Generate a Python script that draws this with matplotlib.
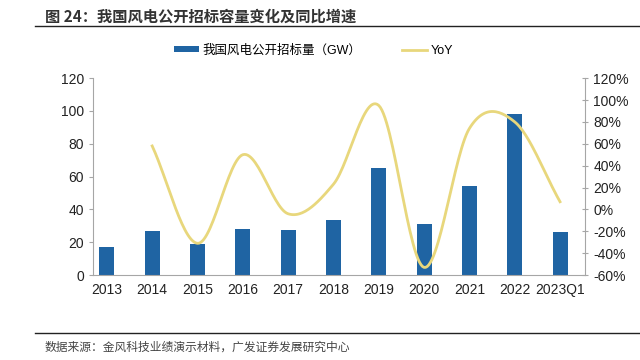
import numpy as np
import matplotlib
matplotlib.use("Agg")
from matplotlib import pyplot as plt

plt.rcParams['font.family'] = ['Liberation Sans', 'Noto Sans CJK SC', 'DejaVu Sans']

# Data
categories = ["2013", "2014", "2015", "2016", "2017", "2018", "2019", "2020", "2021", "2022", "2023Q1"]
capacity_gw = [17, 27, 19, 28, 27.5, 33.5, 65, 31, 54, 98, 26]
yoy_pct = [None, 58, -31, 50, -4, 23, 95, -53, 74, 80, 7]

bar_color = "#1F64A3"
line_color = "#E8D77C"
grey = "#A6A6A6"


def catmull_rom(xs, ys, n=30):
    # smooth curve through points, like the Excel "smoothed line" option
    px = np.concatenate([[2 * xs[0] - xs[1]], xs, [2 * xs[-1] - xs[-2]]])
    py = np.concatenate([[2 * ys[0] - ys[1]], ys, [2 * ys[-1] - ys[-2]]])
    outx, outy = [], []
    for i in range(1, len(px) - 2):
        t = np.linspace(0, 1, n)
        for p, out in ((px, outx), (py, outy)):
            p0, p1, p2, p3 = p[i - 1], p[i], p[i + 1], p[i + 2]
            out.extend(0.5 * ((2 * p1) + (-p0 + p2) * t
                              + (2 * p0 - 5 * p1 + 4 * p2 - p3) * t ** 2
                              + (-p0 + 3 * p1 - 3 * p2 + p3) * t ** 3))
    return np.array(outx), np.array(outy)


fig = plt.figure(figsize=(6.4, 3.6), dpi=100)
ax = fig.add_axes([0.145, 0.236, 0.769, 0.547])
x = np.arange(len(categories))
ax.bar(x, capacity_gw, width=0.33, color=bar_color, zorder=2, label="我国风电公开招标量（GW）")
ax.set_ylim(0, 120)
ax.set_yticks(range(0, 121, 20))
ax.set_xlim(-0.31, 10.55)
ax.set_xticks(x)
ax.set_xticklabels(categories)

ax2 = ax.twinx()
xs = np.array([i for i, v in enumerate(yoy_pct) if v is not None], dtype=float)
ys = np.array([v for v in yoy_pct if v is not None], dtype=float)
sx, sy = catmull_rom(xs, ys)
ax2.plot(sx, sy, color=line_color, lw=2, zorder=3, label="YoY")
ax2.set_ylim(-60, 120)
ax2.set_yticks(range(-60, 121, 20))
ax2.set_yticklabels([f"{v}%" for v in range(-60, 121, 20)])

for a in (ax, ax2):
    for s in a.spines.values():
        s.set_visible(False)
    a.tick_params(labelsize=10, colors="#222222", length=3, color=grey)
ax.spines['left'].set_visible(True)
ax.spines['left'].set_color(grey)
ax.spines['bottom'].set_visible(True)
ax.spines['bottom'].set_color(grey)
ax2.spines['right'].set_visible(True)
ax2.spines['right'].set_color(grey)
ax.tick_params(axis='x', length=0, pad=6)
ax2.tick_params(axis='y', direction='inout', length=5)

# legend
h1, l1 = ax.get_legend_handles_labels()
h2, l2 = ax2.get_legend_handles_labels()
fig.legend(h1 + h2, l1 + l2, loc="center", bbox_to_anchor=(0.49, 0.86), ncol=2,
           frameon=False, fontsize=9, handlelength=2.0, handleheight=0.45,
           handletextpad=0.3, columnspacing=3.2)

# title and source
fig.text(0.07, 0.955, "图 24：我国风电公开招标容量变化及同比增速", fontsize=11, fontweight="bold",
         color="#333333", va="center", family=['Noto Sans CJK SC', 'DejaVu Sans'])
fig.add_artist(plt.Line2D([0.055, 1.0], [0.928, 0.928], color="#222222", lw=1))
fig.add_artist(plt.Line2D([0.055, 1.0], [0.075, 0.075], color="#222222", lw=1))
fig.text(0.07, 0.035, "数据来源：金风科技业绩演示材料，广发证券发展研究中心", fontsize=8.5,
         color="#444444", va="center", family=['Noto Sans CJK SC', 'DejaVu Sans'])

plt.savefig("out.png", dpi=100)
